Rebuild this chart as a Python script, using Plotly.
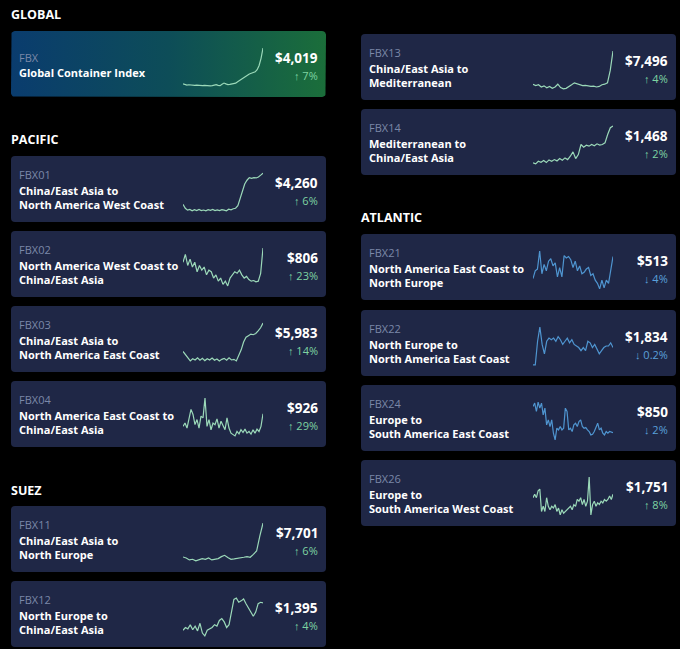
import math
import plotly.graph_objects as go

W, H = 680, 649

# ---- data ----
codes = ["FBX", "FBX01", "FBX02", "FBX03", "FBX04", "FBX11", "FBX12",
         "FBX13", "FBX14", "FBX21", "FBX22", "FBX24", "FBX26"]
titles = [
    "Global Container Index",
    "China/East Asia to<br>North America West Coast",
    "North America West Coast to<br>China/East Asia",
    "China/East Asia to<br>North America East Coast",
    "North America East Coast to<br>China/East Asia",
    "China/East Asia to<br>North Europe",
    "North Europe to<br>China/East Asia",
    "China/East Asia to<br>Mediterranean",
    "Mediterranean to<br>China/East Asia",
    "North America East Coast to<br>North Europe",
    "North Europe to<br>North America East Coast",
    "Europe to<br>South America East Coast",
    "Europe to<br>South America West Coast",
]
prices = ["$4,019", "$4,260", "$806", "$5,983", "$926", "$7,701", "$1,395",
          "$7,496", "$1,468", "$513", "$1,834", "$850", "$1,751"]
changes = [7, 6, 23, 14, 29, 6, 4, 4, 2, -4, -0.2, -2, 8]

fbx = [1500, 1460, 1420, 1440, 1410, 1430, 1400, 1420, 1390, 1410, 1380, 1400,
       1370, 1390, 1360, 1380, 1420, 1450, 1400, 1380, 1480, 1560, 1500, 1450,
       1470, 1480, 1500, 1550, 1650, 1750, 1850, 1900, 2000, 2100, 2200, 2250,
       2300, 2350, 2500, 2800, 3300, 4019]
fbx01 = [1800, 1500, 1350, 1400, 1300, 1380, 1320, 1400, 1310, 1360, 1290, 1380,
         1330, 1400, 1310, 1370, 1320, 1390, 1350, 1300, 1420, 1380, 1460, 1500,
         1700, 2300, 2900, 3400, 3700, 3900, 3850, 3900, 3880, 3950, 4100, 4260]
fbx02 = [669, 745, 638, 699, 623, 669, 577, 638, 592, 623, 547, 592, 577, 516,
         547, 486, 516, 455, 486, 440, 516, 547, 577, 562, 592, 547, 516, 532,
         501, 486, 492, 480, 486, 562, 806]
fbx03 = [2622, 2248, 1762, 1500, 1762, 1612, 1874, 1575, 1799, 1537, 1762, 1612,
         1837, 1575, 1724, 1500, 1687, 1799, 1575, 1874, 1612, 1687, 1500, 2061,
         2809, 3744, 4305, 4492, 4679, 4604, 4754, 5053, 5427, 5983]
fbx04 = [655, 728, 618, 838, 1021, 911, 692, 801, 618, 875, 838, 1263, 655, 801,
         582, 728, 692, 816, 618, 765, 655, 582, 838, 618, 509, 472, 450, 545,
         494, 582, 523, 596, 509, 545, 487, 582, 509, 596, 545, 655, 926]
fbx11 = [2155, 1993, 1670, 1777, 1508, 1723, 1885, 1777, 1993, 1670, 1777, 1885,
         2209, 2424, 2047, 1777, 1831, 1885, 1993, 2101, 2209, 2101, 2586, 3125,
         5550, 7701]
fbx12 = [652, 727, 690, 803, 667, 765, 636, 841, 576, 500, 652, 690, 727, 803,
         765, 917, 970, 879, 727, 803, 1182, 1485, 1523, 1410, 1448, 1501, 1372,
         1258, 1106, 1030, 1144, 1372, 1410, 1395]
fbx13 = [2157, 1934, 2068, 1712, 1890, 1578, 1801, 1489, 1712, 2157, 1623, 1400,
         1489, 1712, 2068, 2379, 2246, 2068, 1934, 1979, 1890, 1801, 1845, 1712,
         1801, 2068, 2157, 2379, 4382, 7496]
fbx14 = [446, 419, 493, 465, 511, 456, 530, 493, 539, 502, 567, 521, 586, 539,
         632, 753, 567, 679, 957, 883, 939, 911, 957, 920, 976, 939, 957, 1004,
         1236, 1422, 1468]
fbx21 = [395, 437, 446, 542, 421, 471, 437, 488, 501, 463, 479, 404, 454, 404,
         518, 505, 513, 496, 454, 488, 437, 463, 421, 429, 446, 454, 412, 421,
         387, 370, 340, 387, 345, 387, 370, 437, 513]
fbx22 = [1250, 1250, 2045, 2522, 1939, 1621, 2045, 2151, 2098, 2151, 2045, 2204,
         2098, 1939, 2045, 2151, 1992, 2098, 1939, 1886, 1834, 1727, 1834, 1727,
         2045, 1992, 1834, 1939, 1780, 1621, 1727, 1834, 1886, 1886, 1992, 1834]
fbx24 = [1100, 1132, 1052, 1142, 1084, 1132, 1020, 1084, 924, 972, 908, 972, 844,
         780, 892, 876, 908, 876, 892, 1084, 1052, 876, 892, 860, 924, 940, 908,
         956, 972, 908, 892, 898, 876, 860, 828, 834, 860, 908, 940, 876, 892,
         844, 828, 860, 844, 860, 854, 850]
fbx26 = [1650, 1750, 1650, 1850, 1900, 1250, 1400, 1250, 1650, 1400, 1300, 1400,
         1350, 1450, 1250, 1350, 1150, 1300, 1200, 1250, 1300, 1350, 1400, 1300,
         1450, 1400, 1600, 1550, 1650, 1450, 1600, 1400, 1550, 2250, 1150, 1450,
         1550, 1400, 1500, 1450, 1550, 1500, 1600, 1550, 1600, 1700, 1600, 1751]
series = [fbx, fbx01, fbx02, fbx03, fbx04, fbx11, fbx12,
          fbx13, fbx14, fbx21, fbx22, fbx24, fbx26]

# card layout: (left, top) in pixels
card_pos = [(11, 31), (11, 156), (11, 231), (11, 306), (11, 381), (11, 506),
            (11, 581), (361, 34), (361, 109), (361, 234), (361, 310),
            (361, 385), (361, 460)]
CW, CH = 315, 66
headings = [("GLOBAL", 9, 14), ("PACIFIC", 9, 139), ("SUEZ", 9, 490),
            ("ATLANTIC", 359, 217)]

CARD = "#1f2746"
GREEN_LINE = "#9bd9b9"
BLUE_LINE = "#4f95d0"
GREEN_TXT = "#7ed4a2"
BLUE_TXT = "#5aa0da"
CODE_TXT = "#7b88a8"
FONT = "Open Sans"


def rounded(x0, y0, x1, y1, r=4):
    return (f"M{x0+r},{y0} L{x1-r},{y0} Q{x1},{y0} {x1},{y0+r} "
            f"L{x1},{y1-r} Q{x1},{y1} {x1-r},{y1} L{x0+r},{y1} "
            f"Q{x0},{y1} {x0},{y1-r} L{x0},{y0+r} Q{x0},{y0} {x0+r},{y0} Z")


def rounded_pts(x0, y0, x1, y1, r=4, n=6):
    xs, ys = [], []
    corners = [(x1 - r, y0 + r, -90), (x1 - r, y1 - r, 0),
               (x0 + r, y1 - r, 90), (x0 + r, y0 + r, 180)]
    for cx, cy, a0 in corners:
        for k in range(n + 1):
            a = math.radians(a0 + 90 * k / n)
            xs.append(cx + r * math.cos(a))
            ys.append(cy + r * math.sin(a))
    xs.append(xs[0])
    ys.append(ys[0])
    return xs, ys


fig = go.Figure()
shapes, annotations = [], []

# global card with gradient fill
gx0, gy0 = card_pos[0]
px_, py_ = rounded_pts(gx0, gy0, gx0 + CW, gy0 + CH)
fig.add_trace(go.Scatter(
    x=px_, y=py_, mode="lines", fill="toself", line=dict(width=0),
    fillgradient=dict(type="horizontal",
                      colorscale=[[0, "#0a3c6e"], [0.5, "#0d4d58"], [1, "#1b6e3a"]]),
    hoverinfo="skip", showlegend=False, xaxis="x", yaxis="y"))

for i, (cx, cy) in enumerate(card_pos):
    if i > 0:
        shapes.append(dict(type="path", xref="x", yref="y",
                           path=rounded(cx, cy, cx + CW, cy + CH),
                           fillcolor=CARD, line=dict(width=0), layer="below"))
    one_line = "<br>" not in titles[i]
    code_y = cy + (26 if one_line else 18)
    title_y = cy + 41
    annotations.append(dict(x=cx + 6, y=code_y, xref="x", yref="y", text=codes[i],
                            showarrow=False, xanchor="left", yanchor="middle",
                            font=dict(family=FONT, size=11, color=CODE_TXT)))
    annotations.append(dict(x=cx + 6, y=title_y, xref="x", yref="y",
                            text="<b>" + titles[i].replace("<br>", "</b><br><b>") + "</b>",
                            showarrow=False, xanchor="left", yanchor="middle",
                            align="left",
                            font=dict(family=FONT, size=11, color="white")))
    up = changes[i] >= 0
    annotations.append(dict(x=cx + CW - 6, y=cy + 27, xref="x", yref="y",
                            text=f"<b>{prices[i]}</b>", showarrow=False,
                            xanchor="right", yanchor="middle",
                            font=dict(family=FONT, size=13.5, color="white")))
    arrow = "↑" if up else "↓"
    annotations.append(dict(x=cx + CW - 6, y=cy + 44, xref="x", yref="y",
                            text=f"<b>{arrow}</b> {abs(changes[i]):g}%",
                            showarrow=False, xanchor="right", yanchor="middle",
                            font=dict(family=FONT, size=11,
                                      color=GREEN_TXT if up else BLUE_TXT)))

    # sparkline axes
    sx0 = cx + 172
    sx1 = cx + 252
    sy0 = cy + 15
    sy1 = cy + 57
    k = i + 2
    fig.add_trace(go.Scatter(
        x=list(range(len(series[i]))), y=series[i], mode="lines",
        line=dict(color=GREEN_LINE if up else BLUE_LINE, width=1.2),
        hoverinfo="skip", showlegend=False, xaxis=f"x{k}", yaxis=f"y{k}"))
    fig.update_layout(**{
        f"xaxis{k}": dict(domain=[sx0 / W, sx1 / W], visible=False, anchor=f"y{k}"),
        f"yaxis{k}": dict(domain=[1 - sy1 / H, 1 - sy0 / H], visible=False,
                          anchor=f"x{k}"),
    })

for text, hx, hy in headings:
    annotations.append(dict(x=hx, y=hy, xref="x", yref="y", text=f"<b>{text}</b>",
                            showarrow=False, xanchor="left", yanchor="middle",
                            font=dict(family=FONT, size=12.5, color="white")))

fig.update_layout(
    width=W, height=H,
    margin=dict(l=0, r=0, t=0, b=0),
    paper_bgcolor="black", plot_bgcolor="rgba(0,0,0,0)",
    xaxis=dict(range=[0, W], domain=[0, 1], visible=False, fixedrange=True),
    yaxis=dict(range=[H, 0], domain=[0, 1], visible=False, fixedrange=True),
    shapes=shapes, annotations=annotations,
    showlegend=False,
)

fig.write_html("out.html", config={"displayModeBar": False},
               post_script="document.body.style.margin='0';"
                           "document.body.style.background='black';")
